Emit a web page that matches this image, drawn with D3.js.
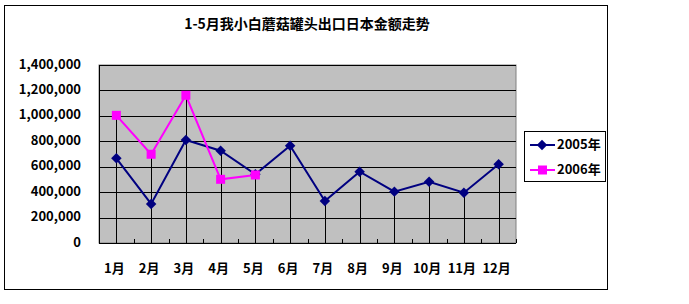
<!DOCTYPE html>
<html>
<head>
<meta charset="utf-8">
<script src="https://cdn.jsdelivr.net/npm/d3@7"></script>
<style>
  body { margin: 0; background: #fff; }
  svg text { font-family: "Noto Sans CJK SC", "Liberation Sans", sans-serif; font-weight: bold; }
</style>
</head>
<body>
<div id="chart"></div>
<script>
var months = ["1月", "2月", "3月", "4月", "5月", "6月", "7月", "8月", "9月", "10月", "11月", "12月"];
var values2005 = [666000, 307000, 810000, 726000, 540000, 765000, 330000, 561000, 404000, 482000, 396000, 619000];
var values2006 = [1004000, 698000, 1162000, 501000, 535000];
var yTicks = [0, 200000, 400000, 600000, 800000, 1000000, 1200000, 1400000];
var seriesNames = ["2005年", "2006年"];
var title = "1-5月我小白蘑菇罐头出口日本金额走势";

var width = 689, height = 304;
var plot = {left: 99, right: 516, top: 65, bottom: 243};

var svg = d3.select("#chart").append("svg")
    .attr("width", width)
    .attr("height", height);

// outer chart border
svg.append("rect")
    .attr("x", 4.5).attr("y", 5.5)
    .attr("width", 603).attr("height", 284)
    .attr("fill", "#fff")
    .attr("stroke", "#000")
    .attr("stroke-width", 1);

svg.append("text")
    .attr("x", 307).attr("y", 25)
    .attr("text-anchor", "middle")
    .attr("dominant-baseline", "middle")
    .attr("font-size", 14)
    .text(title);

var x = d3.scaleBand().domain(months).range([plot.left, plot.right]);
var y = d3.scaleLinear().domain([0, 1400000]).range([plot.bottom, plot.top]);
var cx = function (m) { return x(m) + x.bandwidth() / 2; };

// plot background
svg.append("rect")
    .attr("x", plot.left).attr("y", plot.top)
    .attr("width", plot.right - plot.left).attr("height", plot.bottom - plot.top)
    .attr("fill", "#c0c0c0")
    .attr("stroke", "#808080");

// gridlines
svg.selectAll(".grid").data(yTicks.filter(function (d) { return d > 0; }))
    .enter().append("line")
    .attr("class", "grid")
    .attr("x1", plot.left).attr("x2", plot.right)
    .attr("y1", function (d) { return Math.round(y(d)) + 0.5; })
    .attr("y2", function (d) { return Math.round(y(d)) + 0.5; })
    .attr("stroke", "#000");

// y axis labels
var fmt = d3.format(",");
svg.selectAll(".ylab").data(yTicks)
    .enter().append("text")
    .attr("class", "ylab")
    .attr("x", 81)
    .attr("y", function (d) { return y(d); })
    .attr("text-anchor", "end")
    .attr("dominant-baseline", "middle")
    .attr("font-size", 13)
    .text(function (d) { return fmt(d); });

// drop lines from highest point of each month
svg.selectAll(".drop").data(months)
    .enter().append("line")
    .attr("class", "drop")
    .attr("x1", function (m) { return Math.round(cx(m)) + 0.5; })
    .attr("x2", function (m) { return Math.round(cx(m)) + 0.5; })
    .attr("y1", plot.bottom)
    .attr("y2", function (m, i) {
        var v = values2005[i];
        if (i < values2006.length) v = Math.max(v, values2006[i]);
        return y(v);
    })
    .attr("stroke", "#000");

// axes lines
svg.append("line")
    .attr("x1", plot.left + 0.5).attr("x2", plot.left + 0.5)
    .attr("y1", plot.top).attr("y2", plot.bottom)
    .attr("stroke", "#000");
svg.append("line")
    .attr("x1", plot.left).attr("x2", plot.right)
    .attr("y1", plot.bottom + 0.5).attr("y2", plot.bottom + 0.5)
    .attr("stroke", "#000");

// category tick marks (inside)
var bounds = months.map(function (m) { return x(m); }).concat([plot.right]);
svg.selectAll(".tick").data(bounds)
    .enter().append("line")
    .attr("class", "tick")
    .attr("x1", function (d) { return Math.round(d) + 0.5; })
    .attr("x2", function (d) { return Math.round(d) + 0.5; })
    .attr("y1", plot.bottom).attr("y2", plot.bottom - 4)
    .attr("stroke", "#000");

// month labels
svg.selectAll(".xlab").data(months)
    .enter().append("text")
    .attr("class", "xlab")
    .attr("x", function (m) { return cx(m) - 2; })
    .attr("y", 269)
    .attr("text-anchor", "middle")
    .attr("dominant-baseline", "middle")
    .attr("font-size", 13)
    .text(function (m) { return m; });

var line = d3.line()
    .x(function (d) { return cx(d.m); })
    .y(function (d) { return y(d.v); });

var s2005 = values2005.map(function (v, i) { return {m: months[i], v: v}; });
var s2006 = values2006.map(function (v, i) { return {m: months[i], v: v}; });

var diamond = d3.symbol().type(d3.symbolDiamond2).size(70);

svg.append("path")
    .datum(s2005)
    .attr("d", line)
    .attr("fill", "none")
    .attr("stroke", "#000080")
    .attr("stroke-width", 2);
svg.selectAll(".pt05").data(s2005)
    .enter().append("path")
    .attr("class", "pt05")
    .attr("d", diamond)
    .attr("transform", function (d) { return "translate(" + cx(d.m) + "," + y(d.v) + ")"; })
    .attr("fill", "#000080");

svg.append("path")
    .datum(s2006)
    .attr("d", line)
    .attr("fill", "none")
    .attr("stroke", "#ff00ff")
    .attr("stroke-width", 2);
svg.selectAll(".pt06").data(s2006)
    .enter().append("rect")
    .attr("class", "pt06")
    .attr("x", function (d) { return cx(d.m) - 4.5; })
    .attr("y", function (d) { return y(d.v) - 4.5; })
    .attr("width", 9).attr("height", 9)
    .attr("fill", "#ff00ff");

// legend
var lg = svg.append("g").attr("transform", "translate(524,131)");
lg.append("rect")
    .attr("x", 0.5).attr("y", 0.5)
    .attr("width", 81).attr("height", 50)
    .attr("fill", "#fff")
    .attr("stroke", "#000");
var colors = ["#000080", "#ff00ff"];
seriesNames.forEach(function (name, i) {
    var ly = 14 + i * 25;
    lg.append("line")
        .attr("x1", 6).attr("x2", 31)
        .attr("y1", ly).attr("y2", ly)
        .attr("stroke", colors[i]).attr("stroke-width", 2);
    if (i === 0) {
        lg.append("path")
            .attr("d", diamond)
            .attr("transform", "translate(18," + ly + ")")
            .attr("fill", colors[i]);
    } else {
        lg.append("rect")
            .attr("x", 14).attr("y", ly - 4.5)
            .attr("width", 9).attr("height", 9)
            .attr("fill", colors[i]);
    }
    lg.append("text")
        .attr("x", 33).attr("y", ly)
        .attr("dominant-baseline", "middle")
        .attr("font-size", 13)
        .text(name);
});
</script>
</body>
</html>
